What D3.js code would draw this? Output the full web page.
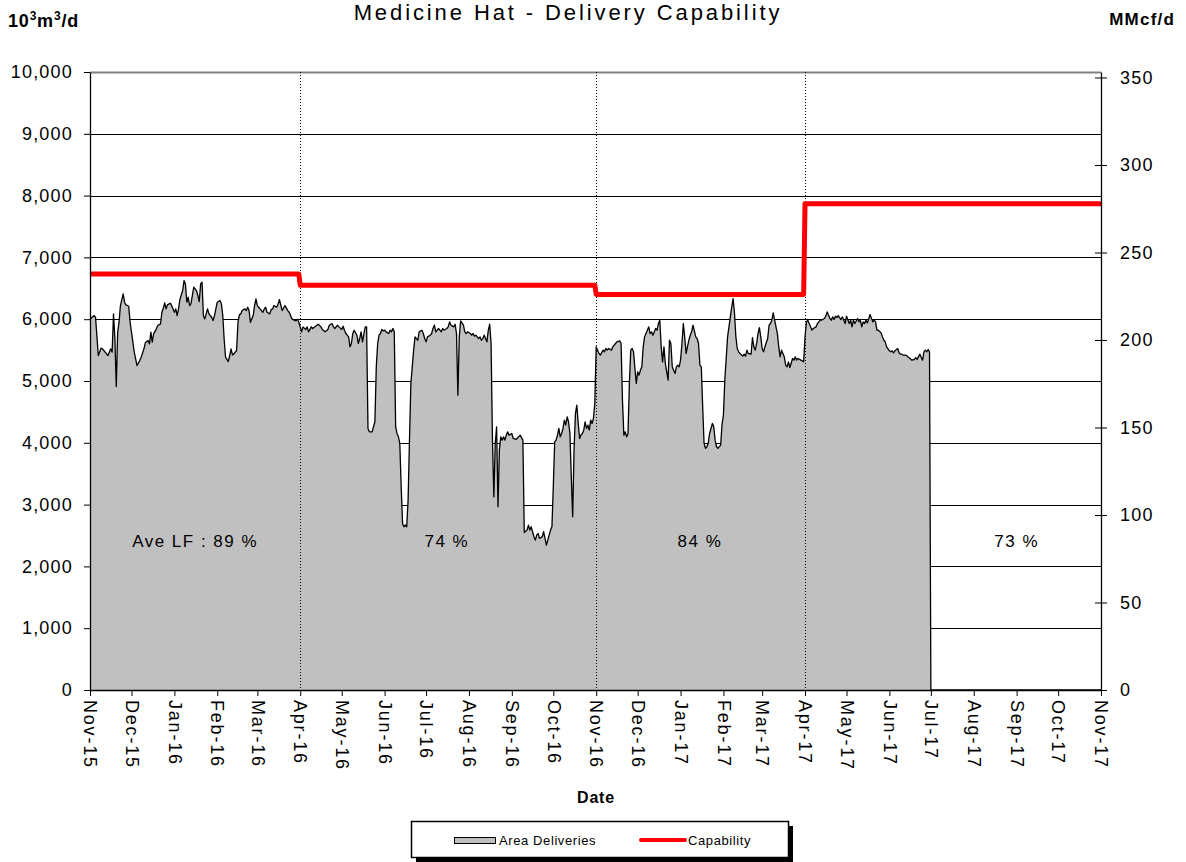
<!DOCTYPE html>
<html>
<head>
<meta charset="utf-8">
<script src="https://cdn.jsdelivr.net/npm/d3@7"></script>
<style>
  body { margin: 0; background: #fff; }
  text { font-family: Arial, 'Liberation Sans', sans-serif; }
</style>
</head>
<body>
<svg id="chart"></svg>
<script>
const monthLabels = ['Nov-15', 'Dec-15', 'Jan-16', 'Feb-16', 'Mar-16', 'Apr-16', 'May-16', 'Jun-16',
  'Jul-16', 'Aug-16', 'Sep-16', 'Oct-16', 'Nov-16', 'Dec-16', 'Jan-17', 'Feb-17', 'Mar-17',
  'Apr-17', 'May-17', 'Jun-17', 'Jul-17', 'Aug-17', 'Sep-17', 'Oct-17', 'Nov-17']
const leftTicks = [0, 1000, 2000, 3000, 4000, 5000, 6000, 7000, 8000, 9000, 10000]
const rightTicks = [0, 50, 100, 150, 200, 250, 300, 350]

// area deliveries, [days since 1 Nov 2015, 10^3 m3/d]
const deliveries = [
  [0,6000],[3,6059],[4,6030],[6,5412],[8,5531],[9,5520],[10,5493],[12,5440],[13,5412],[15,5520],
  [16,5466],[17,6086],[18,5680],[19,4911],[20,5790],[21,5950],[22,6220],[24,6410],[25,6275],[26,6232],
  [28,6210],[29,5951],[31,5630],[32,5466],[34,5250],[36,5330],[37,5385],[39,5520],[40,5617],[42,5655],
  [43,5600],[44,5790],[45,5630],[46,5763],[48,5844],[49,5898],[51,5925],[52,6113],[53,6178],[54,6264],
  [55,6167],[56,6232],[58,6259],[59,6221],[61,6113],[62,6167],[63,6059],[64,6167],[65,6318],[67,6464],
  [68,6625],[69,6570],[70,6275],[71,6356],[72,6221],[73,6248],[74,6383],[75,6517],[77,6463],[78,6383],
  [79,6286],[80,6571],[81,6600],[82,6059],[83,6005],[84,6086],[85,6167],[86,6086],[88,6032],[89,5978],
  [90,6059],[91,6167],[92,6275],[94,6302],[95,6248],[96,6059],[97,5680],[98,5385],[100,5315],[101,5412],
  [102,5520],[103,5423],[104,5439],[106,5493],[107,5951],[108,6070],[109,6086],[110,6140],[112,6167],[113,6140],
  [114,6194],[115,6140],[116,5951],[118,6059],[119,6221],[120,6329],[121,6221],[122,6194],[124,6140],[125,6113],
  [126,6167],[127,6194],[128,6113],[130,6086],[131,6156],[132,6167],[133,6221],[135,6194],[136,6248],[137,6318],
  [138,6221],[139,6140],[141,6221],[142,6178],[143,6140],[144,6113],[145,6059],[146,6005],[148,5978],[149,5978],
  [150,5995],[151,5950],[153,5795],[154,5876],[156,5833],[157,5876],[158,5795],[160,5876],[161,5849],[164,5903],
  [165,5919],[167,5876],[168,5833],[170,5795],[172,5833],[173,5903],[175,5930],[176,5876],[177,5849],[179,5903],
  [180,5876],[182,5833],[183,5887],[184,5822],[185,5768],[187,5714],[188,5553],[189,5607],[190,5768],[191,5822],
  [193,5741],[194,5607],[195,5687],[196,5795],[197,5634],[199,5876],[200,5876],[201,4232],[202,4178],[204,4178],
  [205,4259],[206,4340],[207,5229],[208,5607],[209,5741],[210,5768],[211,5833],[212,5811],[213,5822],[214,5795],
  [216,5768],[217,5822],[218,5795],[219,5849],[220,5795],[221,4259],[222,4151],[223,4097],[224,3990],[225,3289],
  [226,2696],[227,2642],[228,2669],[229,2642],[230,3074],[231,4043],[232,4960],[234,5499],[235,5714],[236,5687],
  [237,5660],[238,5795],[240,5822],[241,5768],[242,5687],[243,5634],[244,5714],[246,5741],[247,5768],[248,5849],
  [249,5903],[250,5795],[252,5849],[253,5822],[254,5795],[255,5849],[256,5822],[258,5849],[259,5876],[260,5957],
  [261,5903],[263,5876],[264,5919],[265,5768],[266,4771],[267,5714],[268,5973],[270,5903],[271,5795],[272,5768],
  [273,5795],[275,5768],[276,5741],[277,5768],[278,5725],[279,5741],[281,5687],[282,5714],[283,5660],[284,5687],
  [285,5741],[287,5634],[288,5822],[289,5919],[290,5607],[291,4043],[292,3127],[293,3990],[294,4259],[295,2966],
  [296,3882],[297,4097],[298,4043],[299,4097],[300,4043],[301,4124],[302,4178],[303,4124],[305,4151],[306,4070],
  [308,4054],[311,4124],[313,4043],[314,2550],[316,2588],[317,2669],[318,2588],[319,2642],[321,2480],[322,2426],
  [323,2507],[324,2534],[325,2453],[327,2480],[328,2561],[329,2453],[330,2346],[331,2426],[333,2588],[334,2642],
  [335,3300],[336,4016],[337,4043],[338,4124],[339,4232],[340,4097],[341,4151],[342,4232],[343,4367],[344,4286],
  [345,4421],[346,4340],[347,4151],[348,3450],[349,2804],[350,3900],[351,4475],[352,4609],[353,4313],[354,4070],
  [355,4124],[356,4151],[357,4205],[358,4340],[359,4232],[360,4286],[361,4205],[362,4367],[363,4313],[364,4394],
  [365,4636],[366,5553],[367,5499],[368,5446],[369,5419],[371,5499],[372,5472],[373,5526],[374,5499],[375,5526],
  [377,5499],[378,5553],[379,5580],[380,5607],[381,5634],[383,5650],[384,5607],[385,4690],[386,4124],[387,4178],
  [388,4097],[389,4151],[390,4960],[391,5499],[392,5526],[393,5472],[394,5203],[395,4960],[396,5149],[397,5094],
  [398,5175],[399,5230],[400,5553],[401,5714],[402,5768],[403,5822],[404,5876],[405,5768],[406,5795],[407,5741],
  [409,5849],[410,5822],[411,5930],[412,5984],[413,5553],[414,5310],[415,5553],[416,5283],[417,5149],[418,5014],
  [419,5660],[420,5607],[421,5229],[422,5175],[423,5121],[424,5229],[425,5256],[426,5229],[427,5337],[428,5607],
  [429,5930],[430,5714],[431,5445],[432,5553],[433,5660],[434,5741],[435,5795],[436,5903],[438,5714],[439,5687],
  [440,5607],[441,5256],[442,5229],[443,4582],[444,3990],[445,3909],[446,3936],[447,3990],[448,4151],[450,4313],
  [451,4259],[452,4043],[453,3936],[454,3909],[456,3963],[457,4300],[458,4448],[459,5016],[461,5714],[462,5876],
  [464,6200],[465,6334],[466,6097],[467,5714],[468,5526],[469,5472],[470,5445],[472,5402],[473,5434],[474,5402],
  [475,5499],[476,5445],[478,5434],[479,5703],[480,5553],[481,5499],[482,5607],[483,5768],[484,5865],[485,5714],
  [486,5526],[487,5472],[488,5553],[490,5687],[491,5903],[492,5930],[493,5984],[494,6102],[496,5876],[497,5768],
  [498,5553],[499,5391],[500,5499],[502,5391],[503,5256],[504,5229],[505,5310],[506,5218],[508,5364],[509,5337],
  [510,5391],[511,5337],[512,5364],[514,5337],[515,5326],[516,5310],[517,5714],[518,5957],[519,5984],[520,5930],
  [521,5876],[522,5822],[523,5849],[525,5876],[526,5930],[527,5957],[528,5984],[529,5984],[531,6011],[532,6049],
  [533,6119],[534,6065],[535,6011],[536,5984],[537,6038],[538,5995],[539,6049],[540,6027],[541,6060],[542,6027],
  [543,5995],[544,6038],[545,5984],[546,5930],[547,6049],[549,5930],[550,5984],[551,5876],[552,5984],[553,5930],
  [555,6011],[556,5957],[557,5984],[558,5876],[559,5957],[560,5930],[561,5984],[562,5941],[563,5995],[564,6076],
  [566,5957],[567,5984],[568,5957],[569,5822],[570,5822],[572,5779],[573,5714],[574,5660],[575,5634],[576,5553],
  [578,5488],[579,5472],[580,5488],[581,5456],[582,5488],[584,5526],[585,5456],[586,5434],[587,5434],[588,5418],
  [590,5418],[591,5402],[592,5380],[593,5364],[594,5337],[596,5348],[597,5380],[598,5348],[599,5391],[600,5434],
  [602,5337],[603,5472],[604,5499],[605,5472],[606,5510],[607,5472],[608,0],[731,0]
]

// capability steps, days since 1 Nov 2015
const capabilityDays = [0, 151, 152, 365, 366, 516, 517, 731]
const capabilityValues = [6730, 6730, 6550, 6550, 6400, 6400, 7870, 7870]

const dividerDays = [152, 366, 517]
const loadFactorLabels = ['Ave LF : 89 %', '74 %', '84 %', '73 %']
const loadFactorDays = [76, 258, 441, 670]

const width = 1186
const height = 862
const plot = { left: 90, right: 1101, top: 72, bottom: 690 }

const svg = d3.select('#chart')
  .attr('width', width)
  .attr('height', height)

const start = new Date(2015, 10, 1)
const dayDate = d => d3.timeDay.offset(start, d)
const monthDates = monthLabels.map((m, i) => d3.timeMonth.offset(start, i))

const x = d3.scaleTime()
  .domain([start, monthDates[monthDates.length - 1]])
  .range([plot.left, plot.right])
const y = d3.scaleLinear().domain([0, 10000]).range([plot.bottom, plot.top])
// 1 MMcf = 28.317 10^3 m3
const y2 = d3.scaleLinear().domain([0, 10000 / 28.317]).range([plot.bottom, plot.top])

// gridlines
svg.append('g')
  .selectAll('line')
  .data(leftTicks.slice(1))
  .join('line')
    .attr('x1', plot.left)
    .attr('x2', plot.right)
    .attr('y1', d => Math.round(y(d)) + 0.5)
    .attr('y2', d => Math.round(y(d)) + 0.5)
    .attr('stroke', d => d === 10000 ? '#808080' : '#000')
    .attr('stroke-width', d => d === 10000 ? 2 : 1)

const area = d3.area()
  .x(d => x(dayDate(d[0])))
  .y0(y(0))
  .y1(d => y(d[1]))

const line = d3.line()
  .x(d => x(dayDate(d[0])))
  .y(d => y(d[1]))

svg.append('path')
  .datum(deliveries)
  .attr('d', area)
  .attr('fill', '#c0c0c0')

svg.append('path')
  .datum(deliveries)
  .attr('d', line)
  .attr('fill', 'none')
  .attr('stroke', '#000')
  .attr('stroke-width', 1.3)
  .attr('stroke-linejoin', 'round')

// season dividers
svg.append('g')
  .selectAll('line')
  .data(dividerDays)
  .join('line')
    .attr('x1', d => Math.round(x(dayDate(d))) + 0.5)
    .attr('x2', d => Math.round(x(dayDate(d))) + 0.5)
    .attr('y1', plot.top)
    .attr('y2', plot.bottom)
    .attr('stroke', '#000')
    .attr('stroke-width', 1)
    .attr('stroke-dasharray', '1,2')

const capLine = d3.line()
  .x((d, i) => x(dayDate(capabilityDays[i])))
  .y(d => y(d))

svg.append('path')
  .datum(capabilityValues)
  .attr('d', capLine)
  .attr('fill', 'none')
  .attr('stroke', '#ff0000')
  .attr('stroke-width', 5)
  .attr('stroke-linejoin', 'round')

// load factor labels
svg.append('g')
  .selectAll('text')
  .data(loadFactorLabels)
  .join('text')
    .attr('x', (d, i) => x(dayDate(loadFactorDays[i])))
    .attr('y', 547)
    .attr('text-anchor', 'middle')
    .style('font-size', '17px')
    .style('letter-spacing', '1.5px')
    .text(d => d)

// axes
function styleAxis (g) {
  g.attr('font-family', null).attr('font-size', null)
  g.select('.domain').attr('stroke', '#000').attr('stroke-width', 1.3)
  g.selectAll('.tick line').attr('stroke', '#000')
  g.selectAll('.tick text')
    .attr('fill', '#000')
    .style('font-size', '18px')
    .style('letter-spacing', '1.2px')
}

svg.append('g')
  .attr('transform', `translate(${plot.left},0)`)
  .call(d3.axisLeft(y).tickValues(leftTicks).tickFormat(d3.format(',')).tickSize(6).tickSizeOuter(0).tickPadding(11))
  .call(styleAxis)

svg.append('g')
  .attr('transform', `translate(${plot.right},0)`)
  .call(d3.axisRight(y2).tickValues(rightTicks).tickSize(6).tickSizeOuter(0).tickPadding(13))
  .call(styleAxis)
  .call(g => g.selectAll('.tick line').attr('x1', -6))

svg.append('g')
  .attr('transform', `translate(0,${plot.bottom})`)
  .call(d3.axisBottom(x).tickValues(monthDates).tickFormat((d, i) => monthLabels[i]).tickSize(6).tickSizeOuter(0))
  .call(styleAxis)
  .call(g => g.selectAll('.tick text')
    .style('letter-spacing', '1.8px')
    .attr('transform', 'rotate(90)')
    .attr('text-anchor', 'start')
    .attr('x', 10)
    .attr('y', 0)
    .attr('dy', '0.35em'))

// titles
svg.append('text')
  .attr('x', 568)
  .attr('y', 20)
  .attr('text-anchor', 'middle')
  .style('font-size', '22px')
  .style('letter-spacing', '2.9px')
  .text('Medicine Hat - Delivery Capability')

const unitLeft = svg.append('text')
  .attr('x', 8)
  .attr('y', 27)
  .style('font-size', '18px')
  .style('font-weight', 'bold')
  .style('letter-spacing', '0.8px')
unitLeft.append('tspan').text('10')
unitLeft.append('tspan').attr('dy', -7).style('font-size', '12px').text('3')
unitLeft.append('tspan').attr('dy', 7).text('m')
unitLeft.append('tspan').attr('dy', -7).style('font-size', '12px').text('3')
unitLeft.append('tspan').attr('dy', 7).text('/d')

svg.append('text')
  .attr('x', 1175)
  .attr('y', 25)
  .attr('text-anchor', 'end')
  .style('font-size', '17px')
  .style('font-weight', 'bold')
  .style('letter-spacing', '1.2px')
  .text('MMcf/d')

svg.append('text')
  .attr('x', 596)
  .attr('y', 803)
  .attr('text-anchor', 'middle')
  .style('font-size', '16px')
  .style('font-weight', 'bold')
  .style('letter-spacing', '0.8px')
  .text('Date')

// legend
const legend = svg.append('g')
legend.append('rect')
  .attr('x', 416).attr('y', 826).attr('width', 377).attr('height', 36)
  .attr('fill', '#000')
legend.append('rect')
  .attr('x', 411.5).attr('y', 821.5).attr('width', 377).attr('height', 36)
  .attr('fill', '#fff').attr('stroke', '#000').attr('stroke-width', 1.5)
legend.append('rect')
  .attr('x', 454.5).attr('y', 837.5).attr('width', 41).attr('height', 6)
  .attr('fill', '#c0c0c0').attr('stroke', '#000')
legend.append('text')
  .attr('x', 499).attr('y', 845)
  .style('font-size', '13px')
  .style('letter-spacing', '0.6px')
  .text('Area Deliveries')
legend.append('line')
  .attr('x1', 641).attr('x2', 685).attr('y1', 840).attr('y2', 840)
  .attr('stroke', '#ff0000').attr('stroke-width', 4).attr('stroke-linecap', 'round')
legend.append('text')
  .attr('x', 688).attr('y', 845)
  .style('font-size', '13px')
  .style('letter-spacing', '0.6px')
  .text('Capability')
</script>
</body>
</html>
